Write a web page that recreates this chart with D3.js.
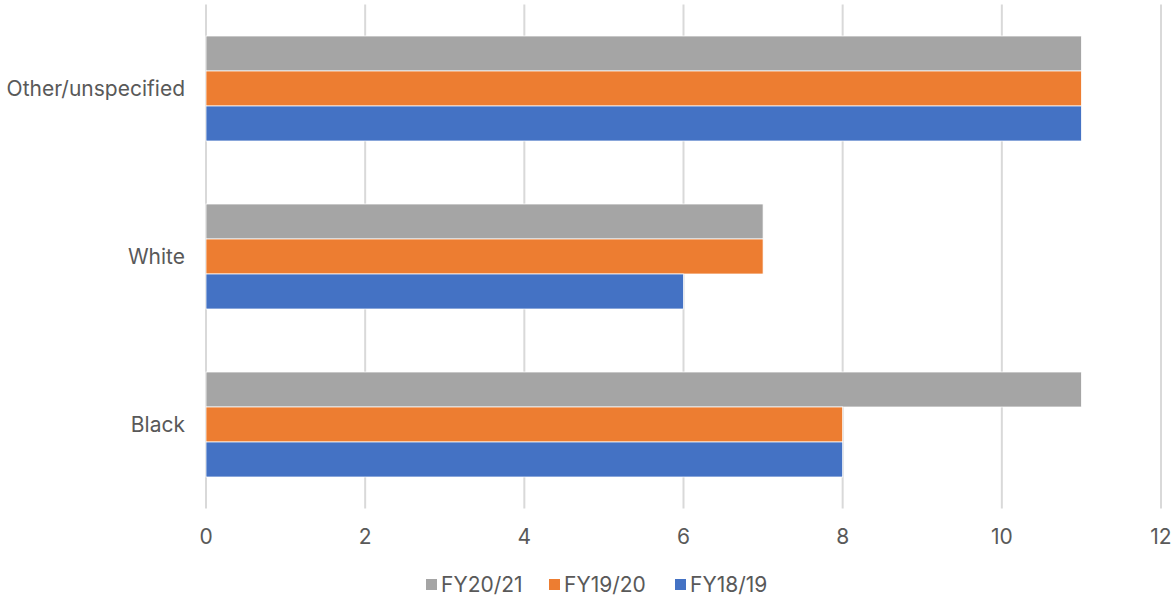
<!DOCTYPE html>
<html>
<head>
<meta charset="utf-8">
<script src="https://cdn.jsdelivr.net/npm/d3@7"></script>
<style>
  body { margin: 0; background: #fff; }
  text { font-family: Inter, "Open Sans", sans-serif; fill: #595959; }
</style>
</head>
<body>
<svg id="chart" width="1176" height="597"></svg>
<script>
// categories top to bottom
const categories = ['Other/unspecified', 'White', 'Black'];
// series, drawn top to bottom inside each group
const seriesNames = ['FY20/21', 'FY19/20', 'FY18/19'];
const fy2021 = [11, 7, 11];
const fy1920 = [11, 7, 8];
const fy1819 = [11, 6, 8];
const xTicks = [0, 2, 4, 6, 8, 10, 12];

const colors = { 'FY20/21': '#a5a5a5', 'FY19/20': '#ed7d31', 'FY18/19': '#4472c4' };
const values = { 'FY20/21': fy2021, 'FY19/20': fy1920, 'FY18/19': fy1819 };

const margin = { top: 4.5, left: 206, right: 15, bottom: 88.5 };
const width = 1176, height = 597;
const svg = d3.select('#chart');

const x = d3.scaleLinear().domain([0, 12]).range([margin.left, width - margin.right]);
const y = d3.scaleBand().domain(categories).range([margin.top, height - margin.bottom]).paddingInner(0.375).paddingOuter(0.1875);
const inner = d3.scaleBand().domain(seriesNames).range([0, y.bandwidth()]);

// gridlines
svg.append('g')
  .selectAll('line')
  .data(xTicks)
  .join('line')
  .attr('x1', d => x(d)).attr('x2', d => x(d))
  .attr('y1', margin.top).attr('y2', height - margin.bottom)
  .attr('stroke', '#d9d9d9').attr('stroke-width', 2);

// bars
const groups = svg.append('g')
  .selectAll('g')
  .data(categories)
  .join('g')
  .attr('transform', d => 'translate(0,' + y(d) + ')');

groups.selectAll('rect')
  .data((c, i) => seriesNames.map(s => ({ s: s, v: values[s][i] })))
  .join('rect')
  .attr('x', x(0))
  .attr('y', d => inner(d.s))
  .attr('width', d => x(d.v) - x(0))
  .attr('height', inner.bandwidth())
  .attr('fill', d => colors[d.s])
  .attr('stroke', '#fff').attr('stroke-width', 0.75);

// x tick labels
svg.append('g')
  .selectAll('text')
  .data(xTicks)
  .join('text')
  .attr('x', d => x(d))
  .attr('y', 537)
  .attr('dy', '0.35em')
  .attr('text-anchor', 'middle')
  .attr('font-size', 21)
  .text(d => d);

// category labels
svg.append('g')
  .selectAll('text')
  .data(categories)
  .join('text')
  .attr('x', 185)
  .attr('y', d => y(d) + y.bandwidth() / 2)
  .attr('dy', '0.35em')
  .attr('text-anchor', 'end')
  .attr('font-size', 21)
  .text(d => d);

// legend
const legendX = [426, 549, 675];
const legend = svg.append('g')
  .selectAll('g')
  .data(seriesNames)
  .join('g')
  .attr('transform', (d, i) => 'translate(' + legendX[i] + ',585)');
legend.append('rect')
  .attr('x', 0).attr('y', -6).attr('width', 11).attr('height', 11)
  .attr('fill', d => colors[d]);
legend.append('text')
  .attr('x', 15).attr('dy', '0.35em')
  .attr('font-size', 21)
  .text(d => d);
</script>
</body>
</html>
